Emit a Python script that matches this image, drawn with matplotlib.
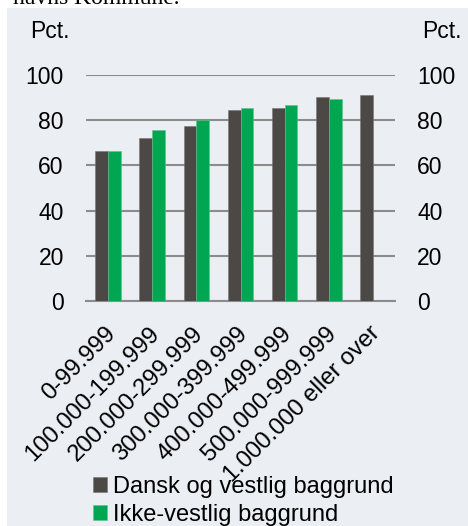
import numpy as np
import matplotlib.pyplot as plt
from matplotlib.patches import Rectangle
from matplotlib.transforms import ScaledTranslation

plt.rcParams['font.family'] = ['Liberation Sans', 'DejaVu Sans']

# data
categories = ['0-99.999', '100.000-199.999', '200.000-299.999', '300.000-399.999',
              '400.000-499.999', '500.000-999.999', '1.000.000 eller over']
dansk = [66.5, 72.3, 77.4, 84.7, 85.4, 90.1, 91.3]
ikke_vestlig = [66.4, 75.7, 80.1, 85.4, 86.7, 89.4, np.nan]
labels = ['Dansk og vestlig baggrund', 'Ikke-vestlig baggrund']

dark = '#4b4845'
green = '#00a651'
bg = '#ebeff3'
grid = '#8c8c8c'
fs = 16.5

fig = plt.figure(figsize=(4.68, 5.26), dpi=100)
W, H = 468, 526

# panel background + cut-off caption above
fig.patches.append(Rectangle((7 / W, 0), 1 - 7 / W, 1 - 8 / H, transform=fig.transFigure,
                             facecolor=bg, edgecolor='none', zorder=-10))
fig.text(13 / W, 1 - 4 / H, 'havns Kommune.', family='Liberation Serif', fontsize=17,
         va='baseline', ha='left')

ax = fig.add_axes([86 / W, 1 - 301 / H, 309 / W, 226 / H])
ax.set_facecolor('none')

x = np.arange(len(categories))
w = 0.29
ax.bar(x - w / 2, dansk, w, color=dark, edgecolor='#7a7774', linewidth=0.4, label=labels[0], zorder=3)
ax.bar(x + w / 2, ikke_vestlig, w, color=green, edgecolor='#5cc48a', linewidth=0.4, label=labels[1], zorder=3)

ax.set_ylim(0, 100)
ax.set_xlim(-0.5, len(categories) - 0.5)
ax.set_yticks(range(0, 101, 20))
ax.yaxis.grid(True, color=grid, linewidth=1.5, zorder=1)
ax.set_axisbelow(True)
for s in ['top', 'right', 'left']:
    ax.spines[s].set_visible(False)
ax.spines['bottom'].set_color(grid)
ax.spines['bottom'].set_linewidth(1.5)

ax.tick_params(axis='y', length=0, pad=16, labelsize=fs, labelright=True, right=False)
ax.tick_params(axis='x', length=0, pad=21)
ax.set_xticks(x)
ax.set_xticklabels(categories, rotation=45, ha='right', va='center', rotation_mode='anchor',
                   fontsize=17.2)
shift = ScaledTranslation(4 / 100, 0, fig.dpi_scale_trans)
for lab in ax.get_xticklabels():
    lab.set_transform(lab.get_transform() + shift)

fig.text(30 / W, 1 - 38 / H, 'Pct.', fontsize=fs, ha='left', va='baseline')
fig.text(462 / W, 1 - 38 / H, 'Pct.', fontsize=fs, ha='right', va='baseline')

fig.legend(loc='upper left', bbox_to_anchor=(93 / W, 1 - 476 / H), frameon=False,
           fontsize=17, handlelength=0.6, handleheight=0.6, handletextpad=0.25,
           labelspacing=0.25, borderaxespad=0, borderpad=0)

fig.savefig('out.png', dpi=100, facecolor='white')
